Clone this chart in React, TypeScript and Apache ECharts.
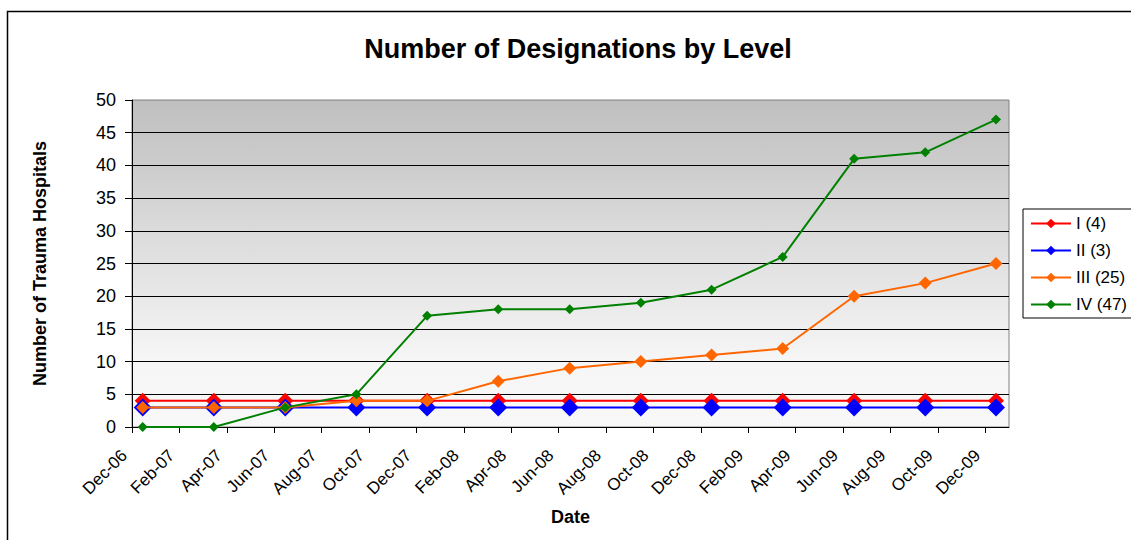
import React, { useEffect, useRef } from "react";
import * as echarts from "echarts";

const pointDates = [
  "2006-12-15", "2007-03-15", "2007-06-15", "2007-09-15", "2007-12-15",
  "2008-03-15", "2008-06-15", "2008-09-15", "2008-12-15", "2009-03-15",
  "2009-06-15", "2009-09-15", "2009-12-15",
];
const levelI = [4, 4, 4, 4, 4, 4, 4, 4, 4, 4, 4, 4, 4];
const levelII = [3, 3, 3, 3, 3, 3, 3, 3, 3, 3, 3, 3, 3];
const levelIII = [3, 3, 3, 4, 4, 7, 9, 10, 11, 12, 20, 22, 25];
const levelIV = [0, 0, 3, 5, 17, 18, 18, 19, 21, 26, 41, 42, 47];
const xTickLabels = [
  "Dec-06", "Feb-07", "Apr-07", "Jun-07", "Aug-07", "Oct-07", "Dec-07",
  "Feb-08", "Apr-08", "Jun-08", "Aug-08", "Oct-08", "Dec-08", "Feb-09",
  "Apr-09", "Jun-09", "Aug-09", "Oct-09", "Dec-09",
];
const seriesNames = ["I (4)", "II (3)", "III (25)", "IV (47)"];

// months since 1 Dec 2006 (fractional)
function monthOffset(s: string): number {
  const [y, m, d] = s.split("-").map(Number);
  const dim = new Date(y, m, 0).getDate();
  return (y - 2006) * 12 + (m - 12) + (d - 1) / dim;
}

const FONT = "'Liberation Sans', Arial, sans-serif";

export default function App() {
  const ref = useRef<HTMLDivElement>(null);
  useEffect(() => {
    if (!ref.current) return;
    const chart = echarts.init(ref.current, undefined, { renderer: "svg" });
    const xs = pointDates.map(monthOffset);
    const mk = (vals: number[]) => vals.map((v, i) => [xs[i], v]);
    const tickVals = xTickLabels.map((_, i) => i * 2);
    const styles = [
      { color: "#ff0000", size: 16 },
      { color: "#0000ff", size: 18 },
      { color: "#ff6600", size: 13 },
      { color: "#008000", size: 10 },
    ];
    const datasets = [levelI, levelII, levelIII, levelIV];
    chart.setOption({
      animation: false,
      textStyle: { fontFamily: FONT, color: "#000" },
      title: {
        text: "Number of Designations by Level",
        left: 573,
        textAlign: "center",
        top: 30,
        textStyle: { fontFamily: FONT, fontSize: 27, fontWeight: "bold", color: "#000" },
      },
      graphic: [
        {
          type: "rect",
          shape: { x: 7.5, y: 11.5, width: 1300, height: 700 },
          style: { fill: "none", stroke: "#000", lineWidth: 1.5 },
          silent: true,
        },
      ],
      legend: {
        orient: "vertical",
        left: 1023,
        top: 209,
        padding: [6, 40, 5, 7],
        itemWidth: 40,
        itemHeight: 12,
        itemGap: 10,
        borderColor: "#000",
        borderWidth: 1,
        backgroundColor: "#fff",
        textStyle: { fontFamily: FONT, fontSize: 17, color: "#000" },
        data: seriesNames,
      },
      grid: {
        left: 132,
        right: 122,
        top: 100,
        bottom: 113,
        show: true,
        borderColor: "#808080",
        borderWidth: 1,
        backgroundColor: new echarts.graphic.LinearGradient(0, 0, 0, 1, [
          { offset: 0, color: "#bfbfbf" },
          { offset: 0.8, color: "#f6f6f6" },
          { offset: 1, color: "#f8f8f8" },
        ]),
      },
      xAxis: {
        type: "value",
        min: 0,
        max: 37,
        interval: 2,
        name: "Date",
        nameLocation: "middle",
        nameGap: 81,
        nameTextStyle: { fontFamily: FONT, fontSize: 18, fontWeight: "bold", color: "#000" },
        axisLine: { show: true, onZero: false, lineStyle: { color: "#000", width: 1 } },
        axisTick: { show: true, length: 6, lineStyle: { color: "#000" }, customValues: tickVals },
        axisLabel: {
          rotate: 45,
          margin: 18,
          padding: [0, 11, 0, 0],
          fontSize: 17,
          fontFamily: FONT,
          color: "#000",
          customValues: tickVals,
          formatter: (v: number) => {
            const i = Math.round(v / 2);
            return Math.abs(v - i * 2) < 1e-6 && xTickLabels[i] ? xTickLabels[i] : "";
          },
        },
        splitLine: { show: false },
      },
      yAxis: {
        type: "value",
        min: 0,
        max: 50,
        interval: 5,
        name: "Number of Trauma Hospitals",
        nameLocation: "middle",
        nameGap: 83,
        nameRotate: 90,
        nameTextStyle: { fontFamily: FONT, fontSize: 18, fontWeight: "bold", color: "#000" },
        axisLine: { show: true, lineStyle: { color: "#000", width: 1 } },
        axisTick: { show: true, length: 7, lineStyle: { color: "#000" } },
        axisLabel: { margin: 16, fontSize: 18, fontFamily: FONT, color: "#000" },
        splitLine: { show: true, showMaxLine: false, lineStyle: { color: "#000", width: 1 } },
      },
      series: datasets.map((vals, k) => ({
        name: seriesNames[k],
        type: "line",
        z: 2 + k,
        data: mk(vals),
        symbol: "diamond",
        symbolSize: styles[k].size,
        lineStyle: { color: styles[k].color, width: 2 },
        itemStyle: { color: styles[k].color },
        emphasis: { disabled: true },
      })),
    });
    return () => chart.dispose();
  }, []);
  return (
    <div
      ref={ref}
      style={{ position: "fixed", left: 0, top: 0, width: 1131, height: 540, background: "#fff" }}
    />
  );
}
